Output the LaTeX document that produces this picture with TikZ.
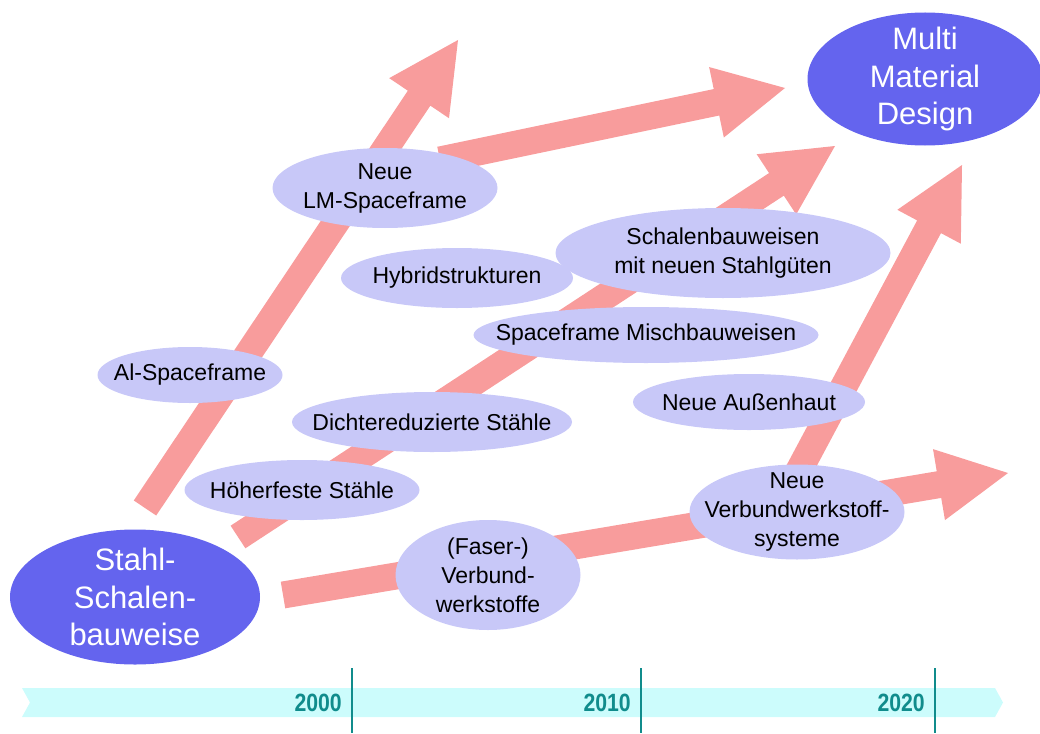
\documentclass[tikz,border=0pt]{standalone}
\usepackage{fontspec}
\setmainfont{Liberation Sans}
\usetikzlibrary{shapes.geometric,calc}
\definecolor{pfeilrot}{RGB}{248,156,156}
\definecolor{dunkelblau}{RGB}{100,100,238}
\definecolor{hellblau}{RGB}{200,200,248}
\definecolor{zeitband}{RGB}{204,252,252}
\definecolor{zeitlinie}{RGB}{16,140,140}
% dicker Pfeil: Schaft 27, Spitze 72 breit, 70 lang
\newcommand{\dickpfeil}[2]{%
\fill[pfeilrot] ($(#1)!13.5pt!90:(#2)$) -- ($(#2)!70pt!(#1)!13.5pt!90:(#2)$)
  -- ($(#2)!70pt!(#1)!36pt!90:(#2)$) -- (#2)
  -- ($(#2)!70pt!(#1)!36pt!-90:(#2)$) -- ($(#2)!70pt!(#1)!13.5pt!-90:(#2)$)
  -- ($(#1)!13.5pt!-90:(#2)$) -- cycle;}
\begin{document}
\begin{tikzpicture}[x=1pt,y=-1pt,
  hell/.style={ellipse, fill=hellblau, inner xsep=-45pt, inner ysep=-25pt, align=center, font=\fontsize{23}{29}\selectfont},
  dunkel/.style={ellipse, fill=dunkelblau, text=white, inner xsep=-45pt, inner ysep=-25pt, align=center, font=\fontsize{31}{37.5}\selectfont},
  jahr/.style={anchor=east, text=zeitlinie, inner sep=0pt, font=\bfseries\fontsize{25}{25}\selectfont}]
\useasboundingbox (0,0) rectangle (1040,733);
% Zeitachse
\fill[zeitband] (22,688) -- (995,688) -- (1003,702.5) -- (995,717) -- (22,717) -- (30,702.5) -- cycle;
\draw[zeitlinie, line width=1.8pt] (352,668) -- (352,733);
\draw[zeitlinie, line width=1.8pt] (641,668) -- (641,733);
\draw[zeitlinie, line width=1.8pt] (935,668) -- (935,733);
\node [jahr] (y2000) at (342,703) {\scalebox{0.85}[1]{2000}};
\node [jahr] (y2010) at (631,703) {\scalebox{0.85}[1]{2010}};
\node [jahr] (y2020) at (925,703) {\scalebox{0.85}[1]{2020}};
% Pfeile
\coordinate (p1a) at (145,508);
\coordinate (p1e) at (458,40);
\coordinate (p2a) at (440,160);
\coordinate (p2e) at (785,88);
\coordinate (p3a) at (238,537);
\coordinate (p3e) at (835,146);
\coordinate (p4a) at (795,478);
\coordinate (p4e) at (962,165);
\coordinate (p5a) at (283,595);
\coordinate (p5e) at (1008,473);
\dickpfeil{p1a}{p1e}
\dickpfeil{p2a}{p2e}
\dickpfeil{p3a}{p3e}
\dickpfeil{p4a}{p4e}
\dickpfeil{p5a}{p5e}
% Ellipsen
\node [dunkel, minimum width=250, minimum height=135] (stahl) at (135,597) {Stahl-\\Schalen-\\bauweise};
\node [dunkel, minimum width=235, minimum height=133] (mmd) at (925,79) {Multi\\Material\\Design};
\node [hell, minimum width=225, minimum height=80] (lm) at (385,188) {Neue\\LM-Spaceframe};
\node [hell, minimum width=232, minimum height=60] (hybrid) at (457,278) {Hybridstrukturen};
\node [hell, minimum width=335, minimum height=90] (schalen) at (723,253) {Schalenbauweisen\\mit neuen Stahlgüten};
\node [hell, minimum width=345, minimum height=56] (misch) at (646,335) {Spaceframe Mischbauweisen};
\node [hell, minimum width=185, minimum height=56] (al) at (190,375) {Al-Spaceframe};
\node [hell, minimum width=232, minimum height=56] (haut) at (749,402) {Neue Außenhaut};
\node [hell, minimum width=280, minimum height=60] (dichte) at (432,422) {Dichtereduzierte Stähle};
\node [hell, minimum width=235, minimum height=60] (hoeher) at (302,490) {Höherfeste Stähle};
\node [hell, minimum width=185, minimum height=110] (faser) at (488,575) {(Faser-)\\Verbund-\\werkstoffe};
\node [hell, minimum width=215, minimum height=95] (vws) at (797,512) {Neue\\Verbundwerkstoff-\\systeme};
\end{tikzpicture}
\end{document}
